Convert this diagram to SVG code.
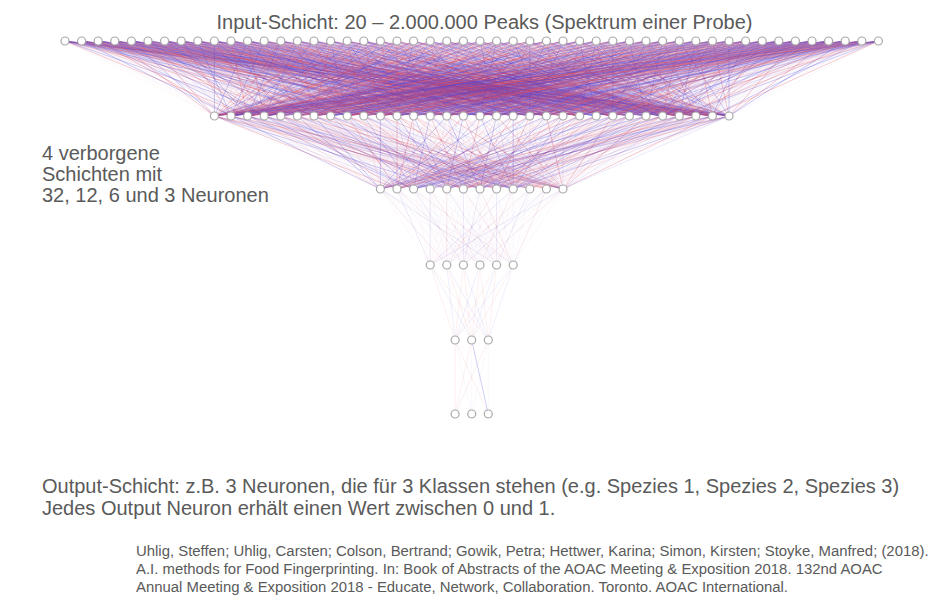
<svg xmlns="http://www.w3.org/2000/svg" xmlns:xlink="http://www.w3.org/1999/xlink" width="928" height="607" viewBox="0 0 928 607">
<style>
path{fill:none;stroke-width:1;vector-effect:non-scaling-stroke}
.R{stroke:#e04455;stroke-opacity:.26}
.r{stroke:#e86070;stroke-opacity:.1}
.B{stroke:#4a44e0;stroke-opacity:.26}
.b{stroke:#6060e8;stroke-opacity:.1}
.fr{stroke:#e05060;stroke-opacity:.04}
.fb{stroke:#5050e0;stroke-opacity:.04}
.n{fill:#fff;stroke:#a8a8a8;stroke-width:1.2}
.t{font-family:"Liberation Sans",Arial,sans-serif;fill:#5a5a5a}
</style>
<defs>
<g id="f1">
<path class="fr" d="M0-75L214.4 0M0-75L247.6 0M0-75L280.8 0M0-75L314 0M0-75L347.2 0M0-75L380.4 0M0-75L413.6 0M0-75L446.8 0M0-75L480 0M0-75L513.2 0M0-75L546.4 0M0-75L579.6 0M0-75L612.8 0M0-75L646 0M0-75L679.2 0M0-75L712.4 0"/>
<path class="fb" d="M0-75L231 0M0-75L264.2 0M0-75L297.4 0M0-75L330.6 0M0-75L363.8 0M0-75L397 0M0-75L430.2 0M0-75L463.4 0M0-75L496.6 0M0-75L529.8 0M0-75L563 0M0-75L596.2 0M0-75L629.4 0M0-75L662.6 0M0-75L695.8 0M0-75L729 0"/>
</g>
<g id="fA"><use href="#f1"/>
<path class="R" d="M0-75L247.6 0M0-75L363.8 0M0-75L496.6 0M0-75L629.4 0M0-75L712.4 0"/>
<path class="B" d="M0-75L280.8 0M0-75L397 0M0-75L463.4 0M0-75L529.8 0M0-75L679.2 0"/>
<path class="r" d="M0-75L330.6 0M0-75L579.6 0"/>
<path class="b" d="M0-75L430.2 0M0-75L646 0"/>
</g>
<g id="fB"><use href="#f1"/>
<path class="R" d="M0-75L214.4 0M0-75L314 0M0-75L430.2 0M0-75L563 0M0-75L662.6 0"/>
<path class="B" d="M0-75L264.2 0M0-75L347.2 0M0-75L513.2 0M0-75L596.2 0M0-75L729 0"/>
<path class="r" d="M0-75L380.4 0M0-75L695.8 0"/>
<path class="b" d="M0-75L480 0M0-75L231 0"/>
</g>
<g id="fC"><use href="#f1"/>
<path class="R" d="M0-75L297.4 0M0-75L397 0M0-75L480 0M0-75L579.6 0M0-75L695.8 0"/>
<path class="B" d="M0-75L231 0M0-75L330.6 0M0-75L446.8 0M0-75L546.4 0M0-75L646 0"/>
<path class="r" d="M0-75L264.2 0M0-75L612.8 0"/>
<path class="b" d="M0-75L363.8 0M0-75L513.2 0"/>
</g>
<g id="fD"><use href="#f1"/>
<path class="R" d="M0-75L264.2 0M0-75L380.4 0M0-75L529.8 0M0-75L612.8 0M0-75L729 0"/>
<path class="B" d="M0-75L214.4 0M0-75L314 0M0-75L413.6 0M0-75L496.6 0M0-75L579.6 0M0-75L662.6 0"/>
<path class="r" d="M0-75L347.2 0M0-75L446.8 0"/>
<path class="b" d="M0-75L546.4 0M0-75L695.8 0"/>
</g>
<g id="fE"><use href="#f1"/>
<path class="R" d="M0-75L231 0M0-75L347.2 0M0-75L446.8 0M0-75L546.4 0M0-75L679.2 0"/>
<path class="B" d="M0-75L247.6 0M0-75L380.4 0M0-75L480 0M0-75L612.8 0M0-75L712.4 0"/>
<path class="r" d="M0-75L297.4 0M0-75L513.2 0"/>
<path class="b" d="M0-75L413.6 0M0-75L629.4 0"/>
</g>
<g id="g2">
<path class="fr" d="M0-73L380.4 0M0-73L413.6 0M0-73L446.8 0M0-73L480 0M0-73L513.2 0M0-73L546.4 0"/>
<path class="fb" d="M0-73L397 0M0-73L430.2 0M0-73L463.4 0M0-73L496.6 0M0-73L529.8 0M0-73L563 0"/>
</g>
<g id="gA"><use href="#g2"/>
<path class="R" d="M0-73L397 0M0-73L496.6 0"/>
<path class="B" d="M0-73L446.8 0"/>
<path class="r" d="M0-73L529.8 0M0-73L546.4 0"/>
<path class="b" d="M0-73L413.6 0"/>
</g>
<g id="gB"><use href="#g2"/>
<path class="R" d="M0-73L563 0"/>
<path class="B" d="M0-73L380.4 0M0-73L480 0"/>
<path class="r" d="M0-73L463.4 0M0-73L430.2 0"/>
<path class="b" d="M0-73L513.2 0"/>
</g>
<g id="gC"><use href="#g2"/>
<path class="R" d="M0-73L463.4 0"/>
<path class="B" d="M0-73L413.6 0M0-73L513.2 0"/>
<path class="r" d="M0-73L380.4 0M0-73L529.8 0"/>
<path class="b" d="M0-73L563 0"/>
</g>
<g id="h3">
<path class="fr" d="M0-76L430.2 0M0-76L463.4 0M0-76L496.6 0"/>
<path class="fb" d="M0-76L446.8 0M0-76L480 0M0-76L513.2 0"/>
</g>
<g id="hA"><use href="#h3"/><path class="r" d="M0-76L446.8 0"/><path class="b" d="M0-76L496.6 0"/></g>
<g id="hB"><use href="#h3"/><path class="r" d="M0-76L480 0"/><path class="b" d="M0-76L430.2 0"/></g>
<g id="hC"><use href="#h3"/><path class="r" d="M0-76L513.2 0"/><path class="b" d="M0-76L463.4 0"/></g>
</defs>

<g id="connectors">
<g id="c1">
<use href="#fA" transform="matrix(1 0 -0.8667 1 0 116)"/>
<use href="#fC" transform="matrix(1 0 -1.088 1 0 116)"/>
<use href="#fE" transform="matrix(1 0 -1.3093 1 0 116)"/>
<use href="#fB" transform="matrix(1 0 -1.5307 1 0 116)"/>
<use href="#fD" transform="matrix(1 0 -1.752 1 0 116)"/>
<use href="#fB" transform="matrix(1 0 -1.9733 1 0 116)"/>
<use href="#fA" transform="matrix(1 0 -2.1947 1 0 116)"/>
<use href="#fE" transform="matrix(1 0 -2.416 1 0 116)"/>
<use href="#fC" transform="matrix(1 0 -2.6373 1 0 116)"/>
<use href="#fD" transform="matrix(1 0 -2.8587 1 0 116)"/>
<use href="#fA" transform="matrix(1 0 -3.08 1 0 116)"/>
<use href="#fD" transform="matrix(1 0 -3.3013 1 0 116)"/>
<use href="#fC" transform="matrix(1 0 -3.5227 1 0 116)"/>
<use href="#fE" transform="matrix(1 0 -3.744 1 0 116)"/>
<use href="#fB" transform="matrix(1 0 -3.9653 1 0 116)"/>
<use href="#fE" transform="matrix(1 0 -4.1867 1 0 116)"/>
<use href="#fB" transform="matrix(1 0 -4.408 1 0 116)"/>
<use href="#fA" transform="matrix(1 0 -4.6293 1 0 116)"/>
<use href="#fD" transform="matrix(1 0 -4.8507 1 0 116)"/>
<use href="#fC" transform="matrix(1 0 -5.072 1 0 116)"/>
<use href="#fC" transform="matrix(1 0 -5.2933 1 0 116)"/>
<use href="#fA" transform="matrix(1 0 -5.5147 1 0 116)"/>
<use href="#fE" transform="matrix(1 0 -5.736 1 0 116)"/>
<use href="#fD" transform="matrix(1 0 -5.9573 1 0 116)"/>
<use href="#fB" transform="matrix(1 0 -6.1787 1 0 116)"/>
<use href="#fD" transform="matrix(1 0 -6.4 1 0 116)"/>
<use href="#fE" transform="matrix(1 0 -6.6213 1 0 116)"/>
<use href="#fC" transform="matrix(1 0 -6.8427 1 0 116)"/>
<use href="#fA" transform="matrix(1 0 -7.064 1 0 116)"/>
<use href="#fB" transform="matrix(1 0 -7.2853 1 0 116)"/>
<use href="#fA" transform="matrix(1 0 -7.5067 1 0 116)"/>
<use href="#fB" transform="matrix(1 0 -7.728 1 0 116)"/>
<use href="#fD" transform="matrix(1 0 -7.9493 1 0 116)"/>
<use href="#fE" transform="matrix(1 0 -8.1707 1 0 116)"/>
<use href="#fC" transform="matrix(1 0 -8.392 1 0 116)"/>
<use href="#fE" transform="matrix(1 0 -8.6133 1 0 116)"/>
<use href="#fC" transform="matrix(1 0 -8.8347 1 0 116)"/>
<use href="#fB" transform="matrix(1 0 -9.056 1 0 116)"/>
<use href="#fA" transform="matrix(1 0 -9.2773 1 0 116)"/>
<use href="#fD" transform="matrix(1 0 -9.4987 1 0 116)"/>
<use href="#fB" transform="matrix(1 0 -9.72 1 0 116)"/>
<use href="#fE" transform="matrix(1 0 -9.9413 1 0 116)"/>
<use href="#fA" transform="matrix(1 0 -10.1627 1 0 116)"/>
<use href="#fC" transform="matrix(1 0 -10.384 1 0 116)"/>
<use href="#fD" transform="matrix(1 0 -10.6053 1 0 116)"/>
<use href="#fC" transform="matrix(1 0 -10.8267 1 0 116)"/>
<use href="#fD" transform="matrix(1 0 -11.048 1 0 116)"/>
<use href="#fB" transform="matrix(1 0 -11.2693 1 0 116)"/>
<use href="#fE" transform="matrix(1 0 -11.4907 1 0 116)"/>
<use href="#fA" transform="matrix(1 0 -11.712 1 0 116)"/>
</g>
<g id="c2">
<use href="#gA" transform="matrix(1 0 -2.9370 1 0 189)"/>
<use href="#gB" transform="matrix(1 0 -3.1644 1 0 189)"/>
<use href="#gC" transform="matrix(1 0 -3.3918 1 0 189)"/>
<use href="#gC" transform="matrix(1 0 -3.6192 1 0 189)"/>
<use href="#gA" transform="matrix(1 0 -3.8466 1 0 189)"/>
<use href="#gB" transform="matrix(1 0 -4.0740 1 0 189)"/>
<use href="#gB" transform="matrix(1 0 -4.3014 1 0 189)"/>
<use href="#gC" transform="matrix(1 0 -4.5288 1 0 189)"/>
<use href="#gA" transform="matrix(1 0 -4.7562 1 0 189)"/>
<use href="#gC" transform="matrix(1 0 -4.9836 1 0 189)"/>
<use href="#gB" transform="matrix(1 0 -5.2110 1 0 189)"/>
<use href="#gA" transform="matrix(1 0 -5.4384 1 0 189)"/>
<use href="#gA" transform="matrix(1 0 -5.6658 1 0 189)"/>
<use href="#gC" transform="matrix(1 0 -5.8932 1 0 189)"/>
<use href="#gB" transform="matrix(1 0 -6.1205 1 0 189)"/>
<use href="#gA" transform="matrix(1 0 -6.3479 1 0 189)"/>
<use href="#gC" transform="matrix(1 0 -6.5753 1 0 189)"/>
<use href="#gB" transform="matrix(1 0 -6.8027 1 0 189)"/>
<use href="#gC" transform="matrix(1 0 -7.0301 1 0 189)"/>
<use href="#gA" transform="matrix(1 0 -7.2575 1 0 189)"/>
<use href="#gB" transform="matrix(1 0 -7.4849 1 0 189)"/>
<use href="#gC" transform="matrix(1 0 -7.7123 1 0 189)"/>
<use href="#gA" transform="matrix(1 0 -7.9397 1 0 189)"/>
<use href="#gA" transform="matrix(1 0 -8.1671 1 0 189)"/>
<use href="#gB" transform="matrix(1 0 -8.3945 1 0 189)"/>
<use href="#gC" transform="matrix(1 0 -8.6219 1 0 189)"/>
<use href="#gB" transform="matrix(1 0 -8.8493 1 0 189)"/>
<use href="#gA" transform="matrix(1 0 -9.0767 1 0 189)"/>
<use href="#gC" transform="matrix(1 0 -9.3041 1 0 189)"/>
<use href="#gA" transform="matrix(1 0 -9.5315 1 0 189)"/>
<use href="#gB" transform="matrix(1 0 -9.7589 1 0 189)"/>
<use href="#gC" transform="matrix(1 0 -9.9863 1 0 189)"/>
</g>
<g id="c3">
<use href="#hA" transform="matrix(1 0 -5.0053 1 0 265)"/>
<use href="#hB" transform="matrix(1 0 -5.2237 1 0 265)"/>
<use href="#hC" transform="matrix(1 0 -5.4421 1 0 265)"/>
<use href="#hB" transform="matrix(1 0 -5.6605 1 0 265)"/>
<use href="#hA" transform="matrix(1 0 -5.8789 1 0 265)"/>
<use href="#hC" transform="matrix(1 0 -6.0974 1 0 265)"/>
<use href="#hC" transform="matrix(1 0 -6.3158 1 0 265)"/>
<use href="#hA" transform="matrix(1 0 -6.5342 1 0 265)"/>
<use href="#hB" transform="matrix(1 0 -6.7526 1 0 265)"/>
<use href="#hA" transform="matrix(1 0 -6.9711 1 0 265)"/>
<use href="#hC" transform="matrix(1 0 -7.1895 1 0 265)"/>
<use href="#hB" transform="matrix(1 0 -7.4079 1 0 265)"/>
</g>
<g id="c4">
<path class="r" d="M430.2 265L455.1 340M446.8 265L471.7 340M463.4 265L455.1 340M480 265L471.7 340M480 265L488.3 340M496.6 265L455.1 340M513.2 265L471.7 340M430.2 265L488.3 340"/>
<path class="b" d="M430.2 265L471.7 340M446.8 265L455.1 340M463.4 265L488.3 340M496.6 265L471.7 340M513.2 265L455.1 340M513.2 265L488.3 340"/>
<path class="r" d="M463.4 265L471.7 340M496.6 265L488.3 340"/>
<path class="b" d="M446.8 265L488.3 340M480 265L455.1 340"/>
</g>
<g id="c5">
<path class="r" d="M455.1 340L455.1 414M455.1 340L488.3 414M471.7 340L455.1 414M488.3 340L455.1 414"/>
<path class="fb" d="M455.1 340L471.7 414M488.3 340L488.3 414M471.7 340L471.7 414M488.3 340L471.7 414"/>
<path class="B" d="M471.7 340L488.3 414"/>
</g>
</g>

<g id="layer1">
<g id="n1_1"><circle class="n" cx="65" cy="41" r="4"/></g>
<g id="n1_2"><circle class="n" cx="81.6" cy="41" r="4"/></g>
<g id="n1_3"><circle class="n" cx="98.2" cy="41" r="4"/></g>
<g id="n1_4"><circle class="n" cx="114.8" cy="41" r="4"/></g>
<g id="n1_5"><circle class="n" cx="131.4" cy="41" r="4"/></g>
<g id="n1_6"><circle class="n" cx="148" cy="41" r="4"/></g>
<g id="n1_7"><circle class="n" cx="164.6" cy="41" r="4"/></g>
<g id="n1_8"><circle class="n" cx="181.2" cy="41" r="4"/></g>
<g id="n1_9"><circle class="n" cx="197.8" cy="41" r="4"/></g>
<g id="n1_10"><circle class="n" cx="214.4" cy="41" r="4"/></g>
<g id="n1_11"><circle class="n" cx="231" cy="41" r="4"/></g>
<g id="n1_12"><circle class="n" cx="247.6" cy="41" r="4"/></g>
<g id="n1_13"><circle class="n" cx="264.2" cy="41" r="4"/></g>
<g id="n1_14"><circle class="n" cx="280.8" cy="41" r="4"/></g>
<g id="n1_15"><circle class="n" cx="297.4" cy="41" r="4"/></g>
<g id="n1_16"><circle class="n" cx="314" cy="41" r="4"/></g>
<g id="n1_17"><circle class="n" cx="330.6" cy="41" r="4"/></g>
<g id="n1_18"><circle class="n" cx="347.2" cy="41" r="4"/></g>
<g id="n1_19"><circle class="n" cx="363.8" cy="41" r="4"/></g>
<g id="n1_20"><circle class="n" cx="380.4" cy="41" r="4"/></g>
<g id="n1_21"><circle class="n" cx="397" cy="41" r="4"/></g>
<g id="n1_22"><circle class="n" cx="413.6" cy="41" r="4"/></g>
<g id="n1_23"><circle class="n" cx="430.2" cy="41" r="4"/></g>
<g id="n1_24"><circle class="n" cx="446.8" cy="41" r="4"/></g>
<g id="n1_25"><circle class="n" cx="463.4" cy="41" r="4"/></g>
<g id="n1_26"><circle class="n" cx="480" cy="41" r="4"/></g>
<g id="n1_27"><circle class="n" cx="496.6" cy="41" r="4"/></g>
<g id="n1_28"><circle class="n" cx="513.2" cy="41" r="4"/></g>
<g id="n1_29"><circle class="n" cx="529.8" cy="41" r="4"/></g>
<g id="n1_30"><circle class="n" cx="546.4" cy="41" r="4"/></g>
<g id="n1_31"><circle class="n" cx="563" cy="41" r="4"/></g>
<g id="n1_32"><circle class="n" cx="579.6" cy="41" r="4"/></g>
<g id="n1_33"><circle class="n" cx="596.2" cy="41" r="4"/></g>
<g id="n1_34"><circle class="n" cx="612.8" cy="41" r="4"/></g>
<g id="n1_35"><circle class="n" cx="629.4" cy="41" r="4"/></g>
<g id="n1_36"><circle class="n" cx="646" cy="41" r="4"/></g>
<g id="n1_37"><circle class="n" cx="662.6" cy="41" r="4"/></g>
<g id="n1_38"><circle class="n" cx="679.2" cy="41" r="4"/></g>
<g id="n1_39"><circle class="n" cx="695.8" cy="41" r="4"/></g>
<g id="n1_40"><circle class="n" cx="712.4" cy="41" r="4"/></g>
<g id="n1_41"><circle class="n" cx="729" cy="41" r="4"/></g>
<g id="n1_42"><circle class="n" cx="745.6" cy="41" r="4"/></g>
<g id="n1_43"><circle class="n" cx="762.2" cy="41" r="4"/></g>
<g id="n1_44"><circle class="n" cx="778.8" cy="41" r="4"/></g>
<g id="n1_45"><circle class="n" cx="795.4" cy="41" r="4"/></g>
<g id="n1_46"><circle class="n" cx="812" cy="41" r="4"/></g>
<g id="n1_47"><circle class="n" cx="828.6" cy="41" r="4"/></g>
<g id="n1_48"><circle class="n" cx="845.2" cy="41" r="4"/></g>
<g id="n1_49"><circle class="n" cx="861.8" cy="41" r="4"/></g>
<g id="n1_50"><circle class="n" cx="878.4" cy="41" r="4"/></g>
</g>
<g id="layer2">
<g id="n2_1"><circle class="n" cx="214.4" cy="116" r="4"/></g>
<g id="n2_2"><circle class="n" cx="231" cy="116" r="4"/></g>
<g id="n2_3"><circle class="n" cx="247.6" cy="116" r="4"/></g>
<g id="n2_4"><circle class="n" cx="264.2" cy="116" r="4"/></g>
<g id="n2_5"><circle class="n" cx="280.8" cy="116" r="4"/></g>
<g id="n2_6"><circle class="n" cx="297.4" cy="116" r="4"/></g>
<g id="n2_7"><circle class="n" cx="314" cy="116" r="4"/></g>
<g id="n2_8"><circle class="n" cx="330.6" cy="116" r="4"/></g>
<g id="n2_9"><circle class="n" cx="347.2" cy="116" r="4"/></g>
<g id="n2_10"><circle class="n" cx="363.8" cy="116" r="4"/></g>
<g id="n2_11"><circle class="n" cx="380.4" cy="116" r="4"/></g>
<g id="n2_12"><circle class="n" cx="397" cy="116" r="4"/></g>
<g id="n2_13"><circle class="n" cx="413.6" cy="116" r="4"/></g>
<g id="n2_14"><circle class="n" cx="430.2" cy="116" r="4"/></g>
<g id="n2_15"><circle class="n" cx="446.8" cy="116" r="4"/></g>
<g id="n2_16"><circle class="n" cx="463.4" cy="116" r="4"/></g>
<g id="n2_17"><circle class="n" cx="480" cy="116" r="4"/></g>
<g id="n2_18"><circle class="n" cx="496.6" cy="116" r="4"/></g>
<g id="n2_19"><circle class="n" cx="513.2" cy="116" r="4"/></g>
<g id="n2_20"><circle class="n" cx="529.8" cy="116" r="4"/></g>
<g id="n2_21"><circle class="n" cx="546.4" cy="116" r="4"/></g>
<g id="n2_22"><circle class="n" cx="563" cy="116" r="4"/></g>
<g id="n2_23"><circle class="n" cx="579.6" cy="116" r="4"/></g>
<g id="n2_24"><circle class="n" cx="596.2" cy="116" r="4"/></g>
<g id="n2_25"><circle class="n" cx="612.8" cy="116" r="4"/></g>
<g id="n2_26"><circle class="n" cx="629.4" cy="116" r="4"/></g>
<g id="n2_27"><circle class="n" cx="646" cy="116" r="4"/></g>
<g id="n2_28"><circle class="n" cx="662.6" cy="116" r="4"/></g>
<g id="n2_29"><circle class="n" cx="679.2" cy="116" r="4"/></g>
<g id="n2_30"><circle class="n" cx="695.8" cy="116" r="4"/></g>
<g id="n2_31"><circle class="n" cx="712.4" cy="116" r="4"/></g>
<g id="n2_32"><circle class="n" cx="729" cy="116" r="4"/></g>
</g>
<g id="layer3">
<g id="n3_1"><circle class="n" cx="380.4" cy="189" r="4"/></g>
<g id="n3_2"><circle class="n" cx="397" cy="189" r="4"/></g>
<g id="n3_3"><circle class="n" cx="413.6" cy="189" r="4"/></g>
<g id="n3_4"><circle class="n" cx="430.2" cy="189" r="4"/></g>
<g id="n3_5"><circle class="n" cx="446.8" cy="189" r="4"/></g>
<g id="n3_6"><circle class="n" cx="463.4" cy="189" r="4"/></g>
<g id="n3_7"><circle class="n" cx="480" cy="189" r="4"/></g>
<g id="n3_8"><circle class="n" cx="496.6" cy="189" r="4"/></g>
<g id="n3_9"><circle class="n" cx="513.2" cy="189" r="4"/></g>
<g id="n3_10"><circle class="n" cx="529.8" cy="189" r="4"/></g>
<g id="n3_11"><circle class="n" cx="546.4" cy="189" r="4"/></g>
<g id="n3_12"><circle class="n" cx="563" cy="189" r="4"/></g>
</g>
<g id="layer4">
<g id="n4_1"><circle class="n" cx="430.2" cy="265" r="4"/></g>
<g id="n4_2"><circle class="n" cx="446.8" cy="265" r="4"/></g>
<g id="n4_3"><circle class="n" cx="463.4" cy="265" r="4"/></g>
<g id="n4_4"><circle class="n" cx="480" cy="265" r="4"/></g>
<g id="n4_5"><circle class="n" cx="496.6" cy="265" r="4"/></g>
<g id="n4_6"><circle class="n" cx="513.2" cy="265" r="4"/></g>
</g>
<g id="layer5">
<g id="n5_1"><circle class="n" cx="455.1" cy="340" r="4"/></g>
<g id="n5_2"><circle class="n" cx="471.7" cy="340" r="4"/></g>
<g id="n5_3"><circle class="n" cx="488.3" cy="340" r="4"/></g>
</g>
<g id="layer6">
<g id="n6_1"><circle class="n" cx="455.1" cy="414" r="4"/></g>
<g id="n6_2"><circle class="n" cx="471.7" cy="414" r="4"/></g>
<g id="n6_3"><circle class="n" cx="488.3" cy="414" r="4"/></g>
</g>

<g id="labels">
<text class="t" x="484.5" y="29" font-size="20" text-anchor="middle">Input-Schicht: 20 – 2.000.000 Peaks (Spektrum einer Probe)</text>
<text class="t" x="42" y="160" font-size="20">4 verborgene</text>
<text class="t" x="42" y="181" font-size="20">Schichten mit</text>
<text class="t" x="42" y="202" font-size="20">32, 12, 6 und 3 Neuronen</text>
<text class="t" x="42" y="493" font-size="20">Output-Schicht: z.B. 3 Neuronen, die für 3 Klassen stehen (e.g. Spezies 1, Spezies 2, Spezies 3)</text>
<text class="t" x="42" y="515" font-size="20">Jedes Output Neuron erhält einen Wert zwischen 0 und 1.</text>
<text class="t" x="136" y="556" font-size="14.9">Uhlig, Steffen; Uhlig, Carsten; Colson, Bertrand; Gowik, Petra; Hettwer, Karina; Simon, Kirsten; Stoyke, Manfred; (2018).</text>
<text class="t" x="136" y="574" font-size="14.9">A.I. methods for Food Fingerprinting. In: Book of Abstracts of the AOAC Meeting &amp; Exposition 2018. 132nd AOAC</text>
<text class="t" x="136" y="592" font-size="14.9">Annual Meeting &amp; Exposition 2018 - Educate, Network, Collaboration. Toronto. AOAC International.</text>
</g>
</svg>
